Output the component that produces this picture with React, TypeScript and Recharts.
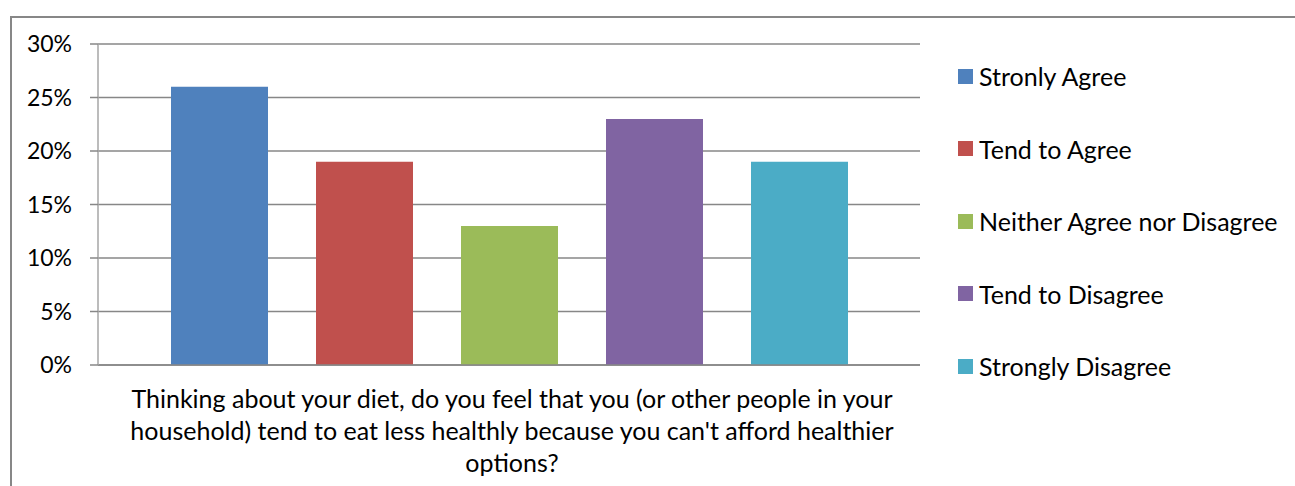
import { BarChart, Bar, XAxis, YAxis, CartesianGrid } from 'recharts';

const QUESTION_LINES = [
  'Thinking about your diet, do you feel that you (or other people in your',
  "household) tend to eat less healthly because you can't afford healthier",
  'options?',
];

const SERIES_NAMES = [
  'Stronly Agree',
  'Tend to Agree',
  'Neither Agree nor Disagree',
  'Tend to Disagree',
  'Strongly Disagree',
];
const SERIES_KEYS = ['sa', 'ta', 'na', 'td', 'sd'];
const SERIES_VALUES = [0.26, 0.19, 0.13, 0.23, 0.19];
const SERIES_COLORS = ['#4f81bd', '#c0504d', '#9bbb59', '#8064a2', '#4bacc6'];

const Y_TICKS = [0, 0.05, 0.1, 0.15, 0.2, 0.25, 0.3];
const EDGE_TICKS = [0, 1];

const FONT = 'Lato, "Noto Sans", sans-serif';
const GRID = '#878787';

const chartData = [
  SERIES_KEYS.reduce<Record<string, string | number>>(
    (row, key, i) => {
      row[key] = SERIES_VALUES[i];
      return row;
    },
    { name: QUESTION_LINES.join(' ') },
  ),
];

function QuestionTick(props: any) {
  const { x, y } = props;
  return (
    <text
      x={x + 3}
      y={y}
      textAnchor="middle"
      fontFamily={FONT}
      fontSize={25}
      fill="#000"
    >
      {QUESTION_LINES.map((line, i) => (
        <tspan key={i} x={x + 3} y={y + 35 + i * 32}>
          {line}
        </tspan>
      ))}
    </text>
  );
}

function SideLegend() {
  return (
    <div
      style={{
        position: 'absolute',
        left: 958,
        top: 58,
        fontFamily: FONT,
        fontSize: 25,
        color: '#000',
      }}
    >
      {SERIES_NAMES.map((name, i) => (
        <div
          key={name}
          style={{ display: 'flex', alignItems: 'center', height: 72.5 }}
        >
          <span
            style={{
              width: 15,
              height: 15,
              background: SERIES_COLORS[i],
              marginRight: 6,
              marginTop: -36,
            }}
          />
          <span style={{ marginTop: -36, whiteSpace: 'nowrap' }}>{name}</span>
        </div>
      ))}
    </div>
  );
}

export default function App() {
  return (
    <div
      style={{
        position: 'relative',
        width: 1295,
        height: 486,
        background: '#fff',
        overflow: 'hidden',
      }}
    >
      <style>{'body{margin:0}'}</style>
      <div
        style={{
          position: 'absolute',
          left: 10,
          top: 16,
          width: 1300,
          height: 480,
          borderLeft: `2px solid ${GRID}`,
          borderTop: `2px solid ${GRID}`,
        }}
      />
      <div style={{ position: 'absolute', left: 0, top: 0 }}>
        <BarChart
          width={1295}
          height={486}
          data={chartData}
          margin={{ top: 44, right: 375, bottom: 0, left: 0 }}
          barSize={97}
          barGap={48}
        >
          <CartesianGrid
            vertical={false}
            stroke={GRID}
            strokeWidth={1.5}
            syncWithTicks
          />
          <XAxis
            xAxisId="edge"
            type="number"
            domain={[0, 1]}
            ticks={EDGE_TICKS}
            tick={false}
            axisLine={false}
            tickLine={{ stroke: '#a6a6a6', strokeWidth: 1.5 }}
            tickSize={8}
            height={0}
          />
          <XAxis
            dataKey="name"
            height={121}
            tickLine={false}
            axisLine={{ stroke: GRID, strokeWidth: 1.5 }}
            tick={<QuestionTick />}
            interval={0}
          />
          <YAxis
            width={98}
            domain={[0, 0.3]}
            ticks={Y_TICKS}
            tickFormatter={(v: number) => `${Math.round(v * 100)}%`}
            tick={{ fontFamily: FONT, fontSize: 23, fill: '#000' }}
            tickSize={8}
            tickMargin={18}
            tickLine={{ stroke: GRID, strokeWidth: 1.5 }}
            axisLine={{ stroke: '#a6a6a6', strokeWidth: 1.5 }}
          />
          {SERIES_KEYS.map((key, i) => (
            <Bar
              key={key}
              dataKey={key}
              name={SERIES_NAMES[i]}
              fill={SERIES_COLORS[i]}
              isAnimationActive={false}
            />
          ))}
        </BarChart>
      </div>
      <SideLegend />
    </div>
  );
}
